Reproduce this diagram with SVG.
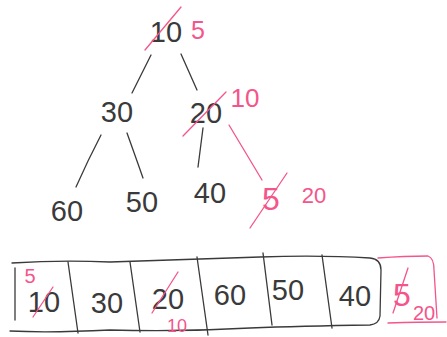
<svg xmlns="http://www.w3.org/2000/svg" width="447" height="337" viewBox="0 0 447 337">
<style>
.t{font-family:"Liberation Sans",Arial,sans-serif;fill:#3a3a3a;text-anchor:middle;font-size:29px}
.r{font-family:"Liberation Sans",Arial,sans-serif;fill:#f4558a;text-anchor:middle}
.k{fill:none;stroke:#3a3a3a;stroke-width:1.3;stroke-linecap:round;stroke-linejoin:round}
.p{fill:none;stroke:#f4558a;stroke-width:1.3;stroke-linecap:round;stroke-linejoin:round}
</style>
<rect width="447" height="337" fill="#ffffff"/>
<g id="connectors">
<path class="k" d="M151 55 L132 93"/>
<path class="k" d="M181 54 L197 90"/>
<path class="k" d="M101 135 Q88 160 76 187"/>
<path class="k" d="M127 133 Q136 158 143 178"/>
<path class="k" d="M203 128 L198 167"/>
<path class="p" d="M229 125 L262 180"/>
</g>
<g id="node-root">
<text class="t" x="166" y="42">10</text>
<path class="p" d="M145 50 L181 7"/>
<text class="r" x="198" y="39" font-size="25">5</text>
</g>
<g id="node-30">
<text class="t" x="117" y="122">30</text>
</g>
<g id="node-20">
<text class="t" x="206" y="123">20</text>
<path class="p" d="M183 136 L226 92"/>
<text class="r" x="245" y="107" font-size="26">10</text>
</g>
<g id="node-60">
<text class="t" x="67" y="221" font-size="32">60</text>
</g>
<g id="node-50">
<text class="t" x="142" y="212">50</text>
</g>
<g id="node-40">
<text class="t" x="210" y="203">40</text>
</g>
<g id="node-5">
<text class="r" x="271" y="210" font-size="32">5</text>
<path class="p" d="M250 228 L287 173"/>
<text class="r" x="314" y="203" font-size="22">20</text>
</g>
<g id="array">
<path class="k" d="M12 263 Q60 260 110 262 Q190 259 260 257 Q320 255 370 258 Q381 259 381 270 L380 316 Q379 324 370 325 Q300 326 250 328 Q180 332 110 330 Q50 333 10 331"/>
<path class="k" d="M15 268 L15 320"/>
<path class="k" d="M68 262 L78 333"/>
<path class="k" d="M130 262 L140 332"/>
<path class="k" d="M197 257 L208 335"/>
<path class="k" d="M263 253 L272 325"/>
<path class="k" d="M322 255 L332 328"/>
</g>
<g id="cell-0">
<text class="t" x="44" y="312" font-size="27">10</text>
<path class="p" d="M33 317 L53 287"/>
<text class="r" x="30" y="283" font-size="20">5</text>
</g>
<g id="cell-1"><text class="t" x="107" y="313" font-size="29">30</text></g>
<g id="cell-2">
<text class="t" x="168" y="309" font-size="27">20</text>
<path class="p" d="M152 313 L178 272"/>
<text class="r" x="177" y="332" font-size="18">10</text>
</g>
<g id="cell-3"><text class="t" x="230" y="305" font-size="29">60</text></g>
<g id="cell-4"><text class="t" x="288" y="300" font-size="28">50</text></g>
<g id="cell-5"><text class="t" x="355" y="306" font-size="29">40</text></g>
<g id="cell-6">
<path class="p" d="M378 258 Q405 256 428 256 Q434 258 434 270 L437 318"/>
<path class="p" d="M388 323 Q420 322 446 322"/>
<text class="r" x="402" y="306" font-size="32">5</text>
<path class="p" d="M393 313 L408 268"/>
<text class="r" x="424" y="320" font-size="20">20</text>
</g>
</svg>
